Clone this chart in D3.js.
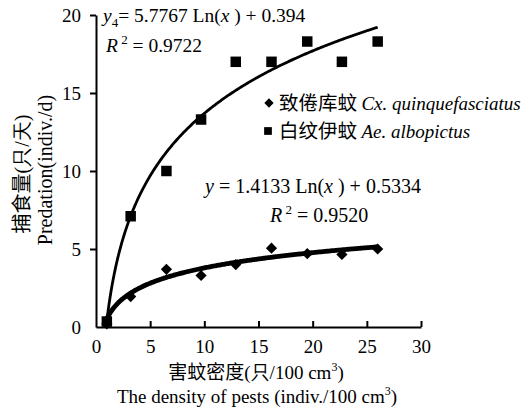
<!DOCTYPE html>
<html><head><meta charset="utf-8">
<script src="https://cdn.jsdelivr.net/npm/d3@7"></script>
<style>
html,body{margin:0;padding:0;background:#fff;}
text,tspan{fill:#000 !important;}
</style></head>
<body><svg id="c" width="531" height="413"></svg>
<script>
const density = [1, 3.2, 6.5, 9.7, 12.9, 16.2, 19.5, 22.7, 26.0];
const cxValues = [0.2, 1.95, 3.7, 3.3, 4.0, 5.05, 4.7, 4.65, 5.0];
const aeValues = [0.35, 7.1, 10.0, 13.3, 17.0, 17.0, 18.3, 17.0, 18.3];
const xTicks = [0, 5, 10, 15, 20, 25, 30];
const yTicks = [0, 5, 10, 15, 20];
const cxFit = {a: 1.4133, b: 0.5334};
const aeFit = {a: 5.7767, b: 0.394};

const SERIF = "Liberation Serif";
const CJK = "Noto Sans CJK SC";

const svg = d3.select("#c");
const x = d3.scaleLinear().domain([0, 30]).range([96, 421]);
const y = d3.scaleLinear().domain([0, 20]).range([327, 15]);

// axes
const xAxis = d3.axisBottom(x).tickValues(xTicks).tickSizeInner(-6).tickSizeOuter(0).tickPadding(13);
const gx = svg.append("g").attr("transform", `translate(0,${y(0)})`).call(xAxis)
  .attr("font-family", SERIF).attr("font-size", 19);
gx.select(".domain").attr("stroke", "#000").attr("stroke-width", 2);
gx.selectAll(".tick line").attr("stroke", "#000").attr("stroke-width", 2);
gx.selectAll(".tick").filter(d => d === 0).select("line").remove();

const yAxis = d3.axisLeft(y).tickValues(yTicks).tickSizeInner(6).tickSizeOuter(0).tickPadding(9);
const gy = svg.append("g").attr("transform", `translate(${x(0)},0)`).call(yAxis)
  .attr("font-family", SERIF).attr("font-size", 19);
gy.select(".domain").attr("stroke", "#000").attr("stroke-width", 2);
gy.selectAll(".tick line").attr("stroke", "#000").attr("stroke-width", 2);
gy.selectAll(".tick").filter(d => d === 0).select("line").remove();

// fitted curves
function curve(fit) {
  const xs = d3.range(1, 26.0001, 0.1);
  return d3.line().x(d => x(d)).y(d => y(fit.a * Math.log(d) + fit.b))(xs);
}
svg.append("path").attr("d", curve(aeFit)).attr("fill", "none").attr("stroke", "#000").attr("stroke-width", 2.8);
svg.append("path").attr("d", curve(cxFit)).attr("fill", "none").attr("stroke", "#000").attr("stroke-width", 4.8);

// markers
const sq = d3.symbol().type(d3.symbolSquare).size(110);
const dm = d3.symbol().type(d3.symbolDiamond2).size(80);
svg.selectAll(".ae").data(density).enter().append("path")
  .attr("d", sq).attr("transform", (d, i) => `translate(${x(d)},${y(aeValues[i])})`).attr("fill", "#000");
svg.selectAll(".cx").data(density).enter().append("path")
  .attr("d", dm).attr("transform", (d, i) => `translate(${x(d)},${y(cxValues[i])})`).attr("fill", "#000");

// legend
svg.append("path").attr("d", d3.symbol().type(d3.symbolDiamond2).size(55)).attr("transform", "translate(269,103)").attr("fill", "#000");
svg.append("path").attr("d", d3.symbol().type(d3.symbolSquare).size(60)).attr("transform", "translate(268,131)").attr("fill", "#000");
const l1 = svg.append("text").attr("x", 279).attr("y", 110).attr("font-size", 19).attr("font-family", SERIF);
l1.append("tspan").attr("font-family", CJK).attr("font-size", 19.5).text("致倦库蚊 ");
l1.append("tspan").attr("font-style", "italic").text("Cx. quinquefasciatus");
const l2 = svg.append("text").attr("x", 279).attr("y", 138).attr("font-size", 19).attr("font-family", SERIF);
l2.append("tspan").attr("font-family", CJK).attr("font-size", 19.5).text("白纹伊蚊 ");
l2.append("tspan").attr("font-style", "italic").text("Ae. albopictus");

// equations
const e1 = svg.append("text").attr("x", 103).attr("y", 22).attr("font-size", 19.5).attr("font-family", SERIF);
e1.append("tspan").attr("font-style", "italic").text("y");
e1.append("tspan").attr("font-size", 13).attr("dy", 5).text("4");
e1.append("tspan").attr("dy", -5).text("= 5.7767 Ln(");
e1.append("tspan").attr("font-style", "italic").text("x");
e1.append("tspan").text(" ) + 0.394");
const r1 = svg.append("text").attr("x", 106).attr("y", 52).attr("font-size", 19.5).attr("font-family", SERIF);
r1.append("tspan").attr("font-style", "italic").text("R");
r1.append("tspan").attr("font-size", 13).attr("dy", -8).text(" 2");
r1.append("tspan").attr("dy", 8).text(" = 0.9722");

const e2 = svg.append("text").attr("x", 205).attr("y", 193).attr("font-size", 20).attr("font-family", SERIF);
e2.append("tspan").attr("font-style", "italic").text("y");
e2.append("tspan").text(" = 1.4133 Ln(");
e2.append("tspan").attr("font-style", "italic").text("x");
e2.append("tspan").text(" ) + 0.5334");
const r2 = svg.append("text").attr("x", 270).attr("y", 222).attr("font-size", 20).attr("font-family", SERIF);
r2.append("tspan").attr("font-style", "italic").text("R");
r2.append("tspan").attr("font-size", 13).attr("dy", -8).text(" 2");
r2.append("tspan").attr("dy", 8).text(" = 0.9520");

// axis titles
const xt1 = svg.append("text").attr("x", 256).attr("y", 379).attr("text-anchor", "middle").attr("font-size", 19).attr("font-family", SERIF);
xt1.append("tspan").attr("font-family", CJK).text("害蚊密度");
xt1.append("tspan").text("(只/100 cm");
xt1.append("tspan").attr("font-size", 12).attr("dy", -8).text("3");
xt1.append("tspan").attr("dy", 8).text(")");
const xt2 = svg.append("text").attr("x", 257).attr("y", 403).attr("text-anchor", "middle").attr("font-size", 19).attr("font-family", SERIF);
xt2.append("tspan").text("The density of pests (indiv./100 cm");
xt2.append("tspan").attr("font-size", 12).attr("dy", -8).text("3");
xt2.append("tspan").attr("dy", 8).text(")");

const yt1 = svg.append("text").attr("transform", "translate(29,174) rotate(-90)").attr("text-anchor", "middle").attr("font-size", 20).attr("font-family", SERIF);
yt1.append("tspan").attr("font-family", CJK).text("捕食量");
yt1.append("tspan").text("(只/天)");
svg.append("text").attr("transform", "translate(52,170) rotate(-90)").attr("text-anchor", "middle").attr("font-size", 20).attr("font-family", SERIF).text("Predation(indiv./d)");
</script></body></html>
